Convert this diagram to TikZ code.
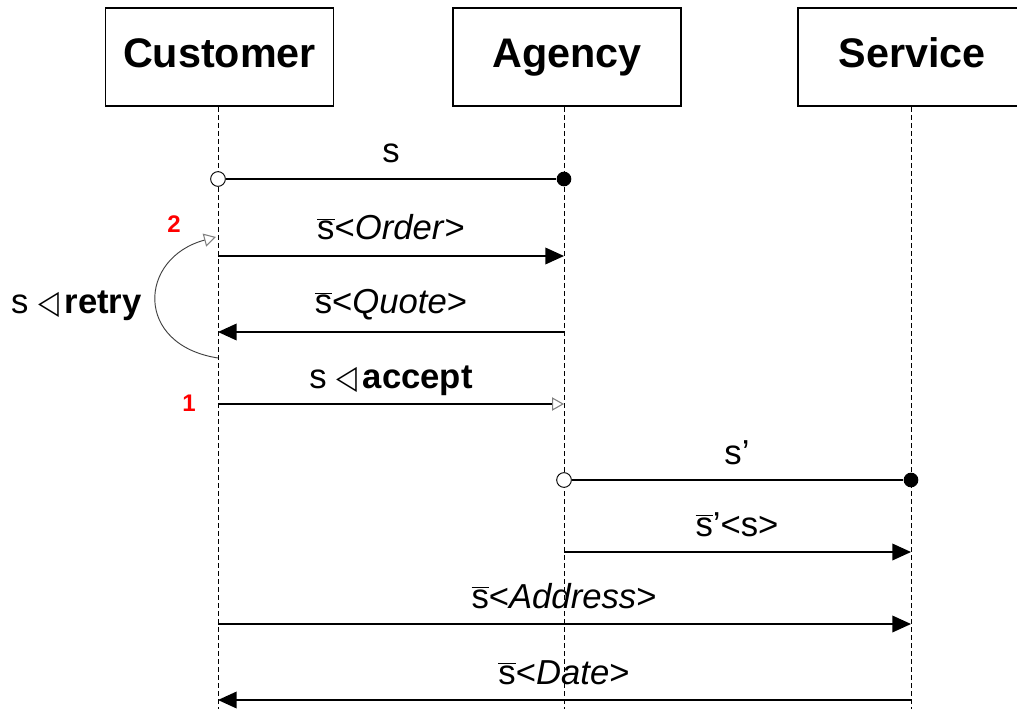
\documentclass[tikz,border=0pt]{standalone}
\usepackage{graphicx}
\usepackage{fontspec}
\setmainfont{Liberation Sans}
\newfontfamily\symfont{DejaVu Sans}
\usetikzlibrary{arrows.meta}
\newcommand{\chbar}[1]{$\overline{\mbox{#1}}$}
\newcommand{\tri}{\scalebox{0.78}[0.95]{\symfont\char"25C1}}
\begin{document}
\begin{tikzpicture}[x=0.75pt,y=-0.75pt,
  actor/.style={draw, line width=1.2pt, minimum width=171pt, minimum height=73.5pt,
    inner sep=0pt, text height=20pt, text depth=3.5pt,
    font=\bfseries\fontsize{31}{36}\selectfont},
  lifeline/.style={line width=0.7pt, dash pattern=on 4pt off 2pt},
  msg/.style={line width=1.1pt, -{Triangle[length=14pt,width=12.5pt]}},
  opentip/.style={-{Triangle[open,length=9pt,width=10pt,color=gray,line width=0.8pt]}},
  asyncmsg/.style={line width=1.1pt, opentip},
  loopline/.style={line width=0.7pt, draw=black!75, opentip},
  opendot/.style={circle, draw, line width=0.7pt, fill=white, inner sep=0pt, minimum size=11pt},
  fulldot/.style={circle, fill=black, inner sep=0pt, minimum size=11pt},
  lbl/.style={anchor=base, inner sep=0pt, font=\fontsize{26}{30}\selectfont},
  stepnum/.style={text=red, inner sep=0pt, font=\bfseries\fontsize{18}{20}\selectfont}]
\useasboundingbox (0,0) rectangle (1017,709);

% participants
\node[actor] (cust) at (219.5,57) {Customer};
\node[actor] (agen) at (567,57) {Agency};
\node[actor] (serv) at (912,57) {Service};

% lifelines
\coordinate (cTop) at (218,107); \coordinate (cBot) at (218,709);
\coordinate (aTop) at (564,107); \coordinate (aBot) at (564,709);
\coordinate (sTop) at (911,107); \coordinate (sBot) at (911,709);
\draw[lifeline] (cTop) -- (cBot);
\draw[lifeline] (aTop) -- (aBot);
\draw[lifeline] (sTop) -- (sBot);

% session s opened by the customer at the agency
\node[opendot] (oS) at (218,179) {};
\node[fulldot] (fS) at (564,179) {};
\draw[line width=1.1pt] (oS) -- (fS);
\node[lbl] (lS) at (391,163) {s};

% order
\coordinate (cOrd) at (218,256); \coordinate (aOrd) at (564,256);
\draw[msg] (cOrd) -- (aOrd);
\node[lbl] (lOrd) at (391,240) {\chbar{s}<\textit{Order}>};

% quote
\coordinate (aQuo) at (564,332); \coordinate (cQuo) at (218,332);
\draw[msg] (aQuo) -- (cQuo);
\node[lbl] (lQuo) at (391,314) {\chbar{s}<\textit{Quote}>};

% accept
\coordinate (cAcc) at (218,404); \coordinate (aAcc) at (564,404);
\draw[asyncmsg] (cAcc) -- (aAcc);
\node[lbl] (lAcc) at (391,388) {s \tri\,\textbf{accept}};

% retry loop
\coordinate (rFrom) at (218,358); \coordinate (rTo) at (216,237);
\draw[loopline] (rFrom) .. controls (134,345) and (138,258) .. (rTo);
\node[lbl, anchor=base east] (lRet) at (142,314) {s \tri\,\textbf{retry}};
\node[stepnum] (n2) at (174,224) {2};
\node[stepnum] (n1) at (189,403) {1};

% session s' opened by the agency at the service
\node[opendot] (oS2) at (564,480) {};
\node[fulldot] (fS2) at (911,480) {};
\draw[line width=1.1pt] (oS2) -- (fS2);
\node[lbl] (lS2) at (737,464) {s’};

% delegation of s
\coordinate (aDel) at (564,552); \coordinate (sDel) at (911,552);
\draw[msg] (aDel) -- (sDel);
\node[lbl] (lDel) at (737,536) {\chbar{s}’<s>};

% address
\coordinate (cAdr) at (218,624); \coordinate (sAdr) at (911,624);
\draw[msg] (cAdr) -- (sAdr);
\node[lbl] (lAdr) at (564,608) {\chbar{s}<\textit{Address}>};

% date
\coordinate (sDat) at (911,700); \coordinate (cDat) at (218,700);
\draw[msg] (sDat) -- (cDat);
\node[lbl] (lDat) at (564,684) {\chbar{s}<\textit{Date}>};
\end{tikzpicture}
\end{document}
